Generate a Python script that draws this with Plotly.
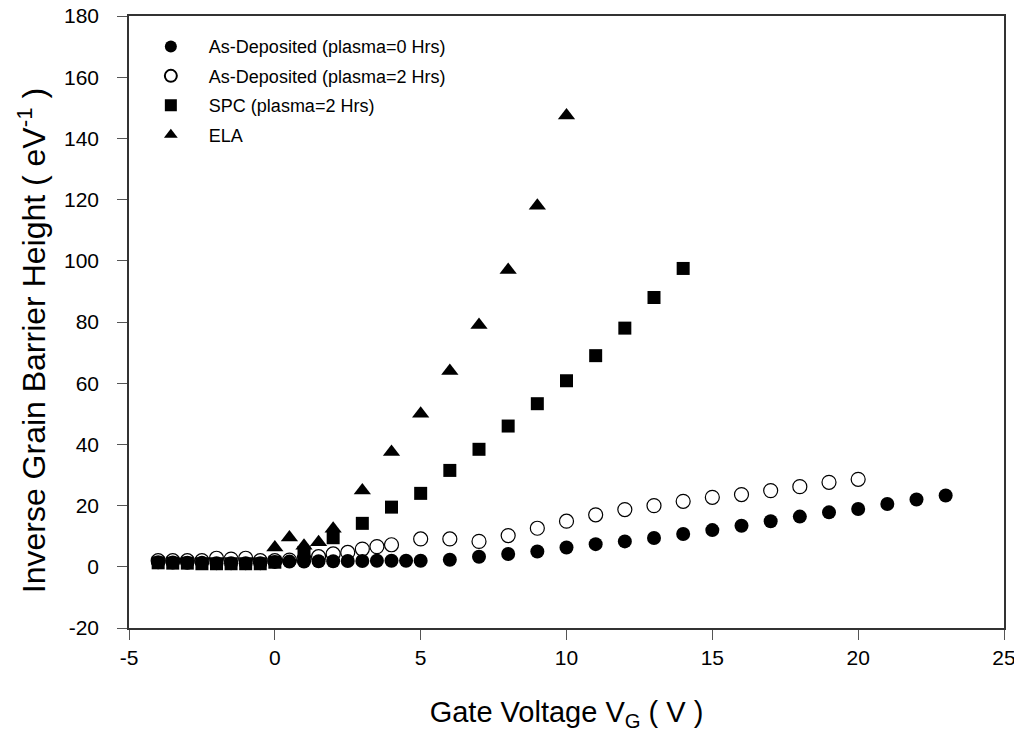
import plotly.graph_objects as go

# As-Deposited (plasma=0 Hrs) - filled circles
ad0_x = [-4, -3.5, -3, -2.5, -2, -1.5, -1, -0.5, 0, 0.5, 1, 1.5, 2, 2.5, 3, 3.5, 4, 4.5,
         5, 6, 7, 8, 9, 10, 11, 12, 13, 14, 15, 16, 17, 18, 19, 20, 21, 22, 23]
ad0_y = [1.5, 1.4, 1.3, 1.3, 1.2, 1.2, 1.2, 1.2, 1.6, 1.7, 1.7, 1.8, 1.8, 1.9, 1.9, 2.0, 2.0, 2.0,
         2.0, 2.3, 3.3, 4.2, 5.0, 6.3, 7.4, 8.3, 9.4, 10.7, 12.0, 13.4, 14.9, 16.4, 17.8, 18.9, 20.5, 22.0, 23.3]

# As-Deposited (plasma=2 Hrs) - open circles
ad2_x = [-4, -3.5, -3, -2.5, -2, -1.5, -1, -0.5, 0, 0.5, 1, 1.5, 2, 2.5, 3, 3.5, 4,
         5, 6, 7, 8, 9, 10, 11, 12, 13, 14, 15, 16, 17, 18, 19, 20]
ad2_y = [2.0, 2.0, 2.0, 2.0, 2.8, 2.5, 2.8, 2.0, 2.0, 2.2, 2.6, 3.3, 4.2, 4.7, 5.8, 6.6, 7.2,
         9.1, 9.1, 8.3, 10.2, 12.6, 14.9, 17.0, 18.7, 20.0, 21.4, 22.7, 23.6, 24.9, 26.2, 27.6, 28.6]

# SPC (plasma=2 Hrs) - filled squares
spc_x = [-4, -3.5, -3, -2.5, -2, -1.5, -1, -0.5, 0, 1, 2, 3, 4, 5, 6, 7, 8, 9, 10, 11, 12, 13, 14]
spc_y = [1.3, 1.2, 1.2, 1.0, 1.0, 1.0, 1.0, 1.0, 1.5, 4.7, 9.5, 14.2, 19.5, 24, 31.5, 38.4, 46, 53.3,
         60.8, 69, 78, 88, 97.5]

# ELA - filled triangles
ela_x = [0, 0.5, 1, 1.5, 2, 3, 4, 5, 6, 7, 8, 9, 10]
ela_y = [6.3, 9.6, 6.9, 8.0, 12.4, 24.9, 37.5, 50, 64, 79, 97, 118, 147.5]

x_ticks = [-5, 0, 5, 10, 15, 20, 25]
x_ticktext = ["-5", "0", "5", "10", "15", "20", "25"]
y_ticks = [-20, 0, 20, 40, 60, 80, 100, 120, 140, 160, 180]
y_ticktext = ["-20", "0", "20", "40", "60", "80", "100", "120", "140", "160", "180"]

series = [
    ("As-Deposited (plasma=0 Hrs)", ad0_x, ad0_y, dict(symbol="circle", size=14, color="black")),
    ("As-Deposited (plasma=2 Hrs)", ad2_x, ad2_y,
     dict(symbol="circle-open", size=14, color="black", line=dict(width=1.2, color="black"))),
    ("SPC (plasma=2 Hrs)", spc_x, spc_y, dict(symbol="square", size=13, color="black")),
    ("ELA", ela_x, ela_y, dict(symbol="triangle-up", size=15, color="black")),
]

fig = go.Figure()
for i, (name, xs, ys, mk) in enumerate(series):
    fig.add_trace(go.Scatter(x=xs, y=ys, mode="markers", name=name, marker=mk,
                             legendgroup=f"g{i}"))

axis_common = dict(
    showgrid=False, zeroline=False, showline=True, linecolor="#333", linewidth=1.5,
    mirror=True, ticks="outside", ticklen=10, tickcolor="#555", tickwidth=1,
    tickfont=dict(family="Arial, Liberation Sans", size=21, color="black"),
    automargin=False, ticklabeloverflow="allow",
)

# The page body adds an 8px margin, so the figure is sized to fit inside it.
fig.update_layout(
    width=1014, height=730,
    margin=dict(l=121, r=18, t=8, b=110),
    paper_bgcolor="white", plot_bgcolor="white",
    font=dict(family="Arial, Liberation Sans", color="black"),
    xaxis=dict(range=[-5, 25], tickvals=x_ticks, ticktext=x_ticktext,
               title=dict(text="Gate Voltage V<sub>G</sub> ( V )",
                          font=dict(size=29), standoff=34),
               **axis_common),
    yaxis=dict(range=[-20, 180], tickvals=y_ticks, ticktext=y_ticktext,
               ticklabelstandoff=14,
               **axis_common),
    legend=dict(x=0.0044, y=0.98, xanchor="left", yanchor="top",
                font=dict(size=18, family="Arial, Liberation Sans"),
                bgcolor="rgba(0,0,0,0)", itemsizing="constant",
                tracegroupgap=3, traceorder="grouped", itemwidth=66),
    showlegend=True,
    annotations=[dict(
        text="Inverse Grain Barrier Height ( eV<sup>-1</sup> )",
        xref="paper", yref="paper", x=-0.111, y=0.47,
        xanchor="center", yanchor="middle", textangle=-90, showarrow=False,
        font=dict(size=32, family="Arial, Liberation Sans", color="black"),
    )],
)

fig.write_html("out.html")
